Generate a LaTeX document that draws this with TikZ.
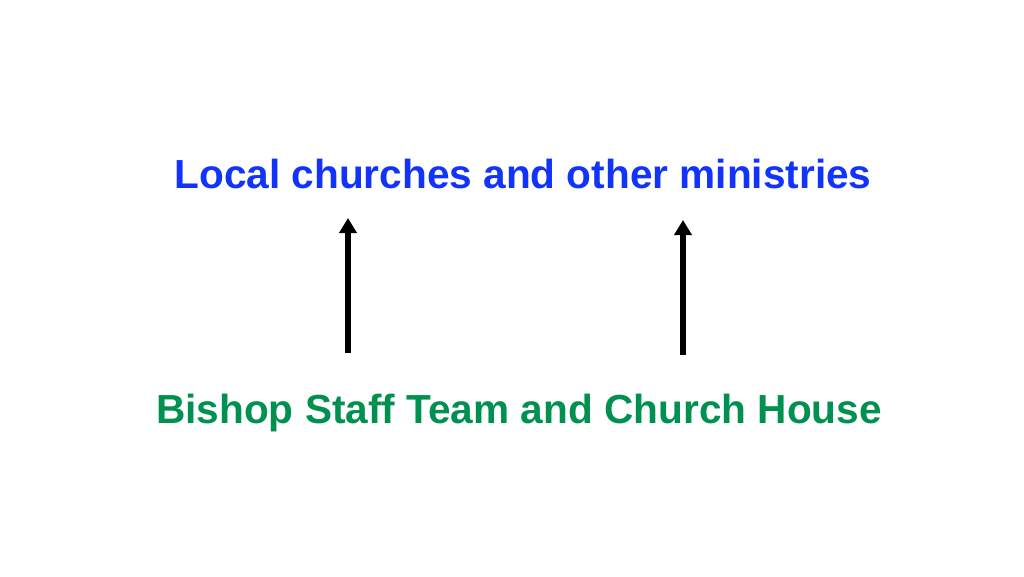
\documentclass[tikz,border=0pt]{standalone}
\usepackage{fontspec}
\setmainfont{Liberation Sans}
\usetikzlibrary{arrows.meta}
\definecolor{topblue}{RGB}{18,52,250}
\definecolor{botgreen}{RGB}{0,145,80}
\begin{document}
\begin{tikzpicture}[x=1pt,y=-1pt,
  lbl/.style={font=\bfseries\fontsize{40.6}{48}\selectfont, inner sep=0pt},
  uparrow/.style={line width=5.5pt, -{Triangle[width=17pt,length=15pt]}}]
\useasboundingbox[fill=white] (0,0) rectangle (1024,576);
\node[lbl, text=topblue] (top) at (523,174) {Local churches and other ministries};
\node[lbl, text=botgreen] (bot) at (519,413) {Bishop Staff Team and Church House};
\coordinate (l1) at (348,353);
\coordinate (l2) at (348,218);
\coordinate (r1) at (683,355);
\coordinate (r2) at (683,220);
\draw[uparrow] (l1) -- (l2);
\draw[uparrow] (r1) -- (r2);
\end{tikzpicture}
\end{document}
